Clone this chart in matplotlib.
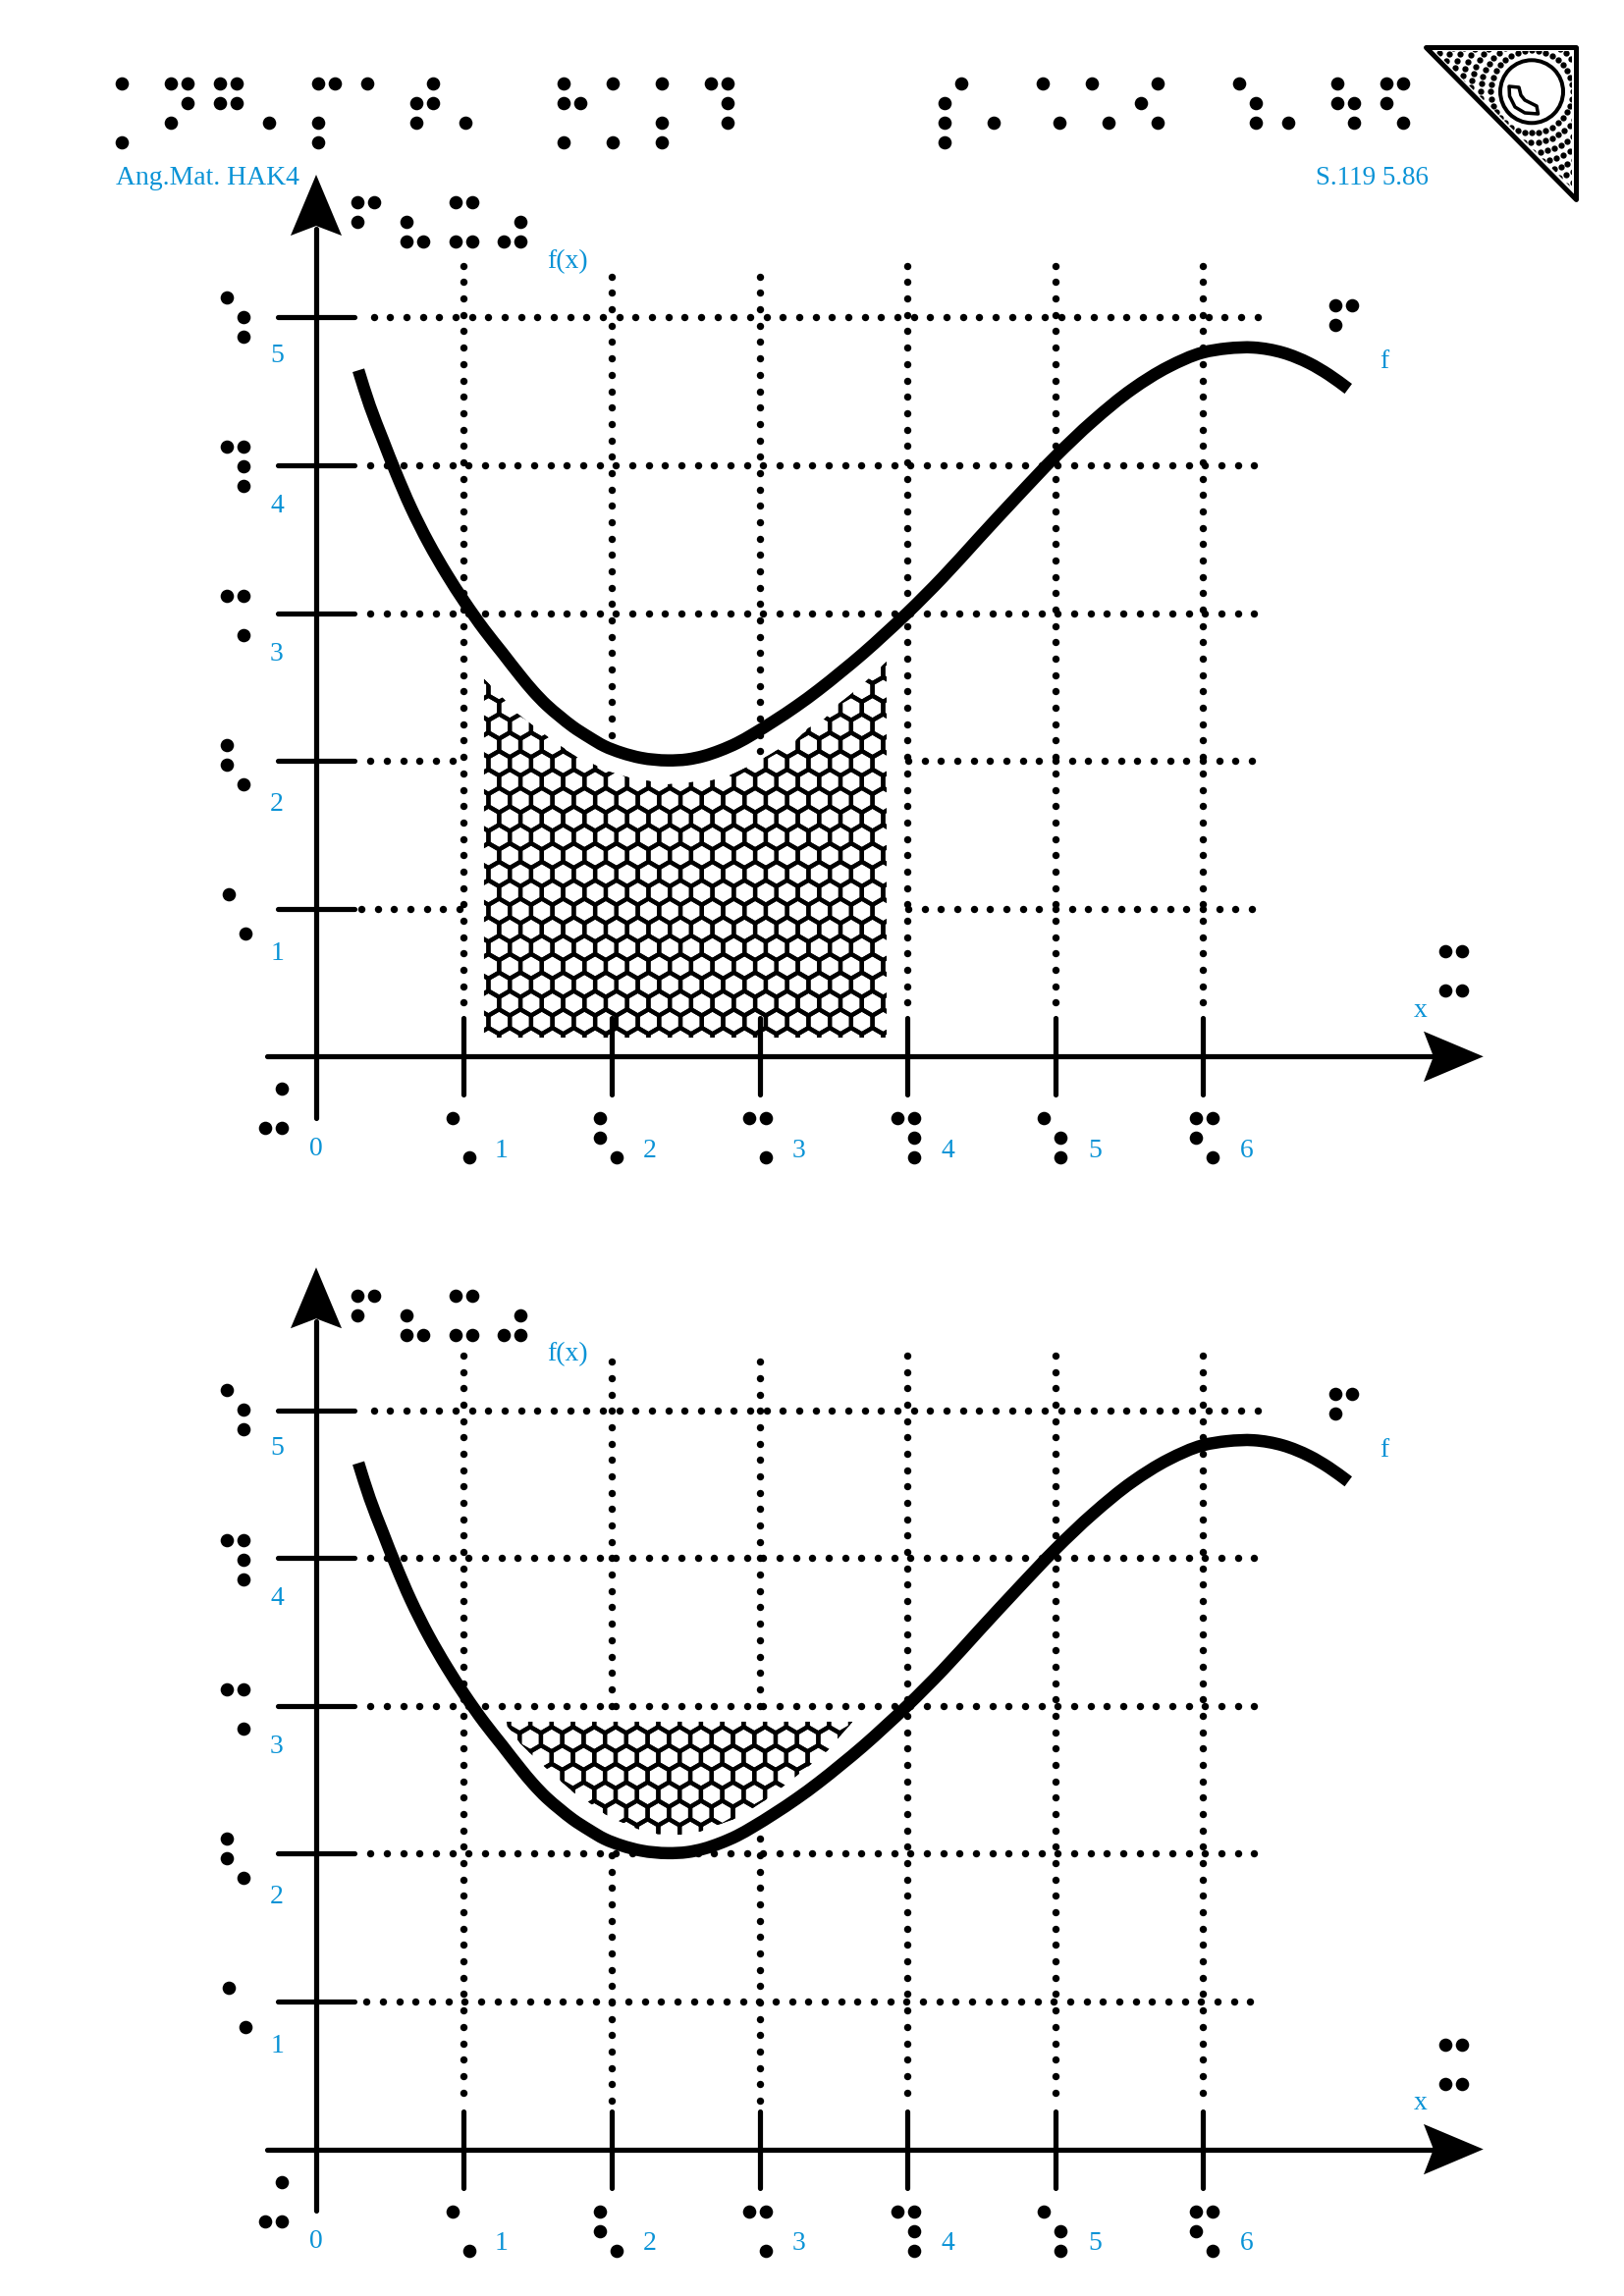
import numpy as np
import matplotlib
matplotlib.use("Agg")
import matplotlib.pyplot as plt
from matplotlib.collections import PolyCollection
from matplotlib.patches import Polygon, Circle, PathPatch
from matplotlib.path import Path

W, H = 1654, 2339
DPI = 100
BLUE = "#0a93d6"
px = 72 / DPI   # one pixel in points
FONT = "Liberation Serif"

# ---------- chart values (data units) ----------
curve_x = [0.286,0.363,0.452,0.540,0.640,0.762,0.884,1.005,1.138,1.260,1.382,1.470,1.559,1.650,1.736,1.847,1.950,
           2.066,2.200,2.380,2.512,2.620,2.733,2.850,2.955,3.100,3.250,3.400,3.550,3.700,3.850,4.000,4.239,4.483,4.749,5.003,
           5.258,5.524,5.767,6.000,6.166,6.344,6.543,6.720,6.853,6.985]
curve_y = [4.642,4.402,4.170,3.948,3.716,3.473,3.262,3.074,2.886,2.731,2.575,2.470,2.378,2.300,2.232,2.160,2.100,
           2.055,2.020,2.003,2.010,2.032,2.070,2.121,2.180,2.270,2.370,2.480,2.600,2.725,2.860,3.000,3.240,3.506,3.793,4.059,
           4.300,4.515,4.665,4.762,4.790,4.796,4.761,4.690,4.612,4.517]

region1_x = [1.136,1.136,1.276,1.362,1.449,1.561,1.661,1.767,1.867,1.980,2.113,2.379,2.678,2.797,2.897,
             3.023,3.123,3.243,3.329,3.442,3.528,3.621,3.728,3.860,3.860]
region1_y = [0.128,2.554,2.412,2.319,2.253,2.167,2.096,2.023,1.981,1.928,1.888,1.841,1.868,1.901,1.948,
             2.014,2.074,2.134,2.220,2.286,2.379,2.452,2.545,2.671,0.128]
region2_x = [1.289,3.630,3.526,3.460,3.353,3.243,3.172,3.043,2.955,2.822,2.711,2.600,2.467,2.312,2.179,
             2.047,1.958,1.836,1.748,1.648,1.548,1.459,1.382,1.294]
region2_y = [2.892,2.892,2.774,2.697,2.608,2.520,2.464,2.365,2.309,2.232,2.192,2.150,2.128,2.132,2.166,
             2.221,2.265,2.354,2.409,2.498,2.586,2.670,2.745,2.863]

x_ticks = [1, 2, 3, 4, 5, 6]
y_ticks = [1, 2, 3, 4, 5]
x_tick_labels = ["1", "2", "3", "4", "5", "6"]
y_tick_labels = ["1", "2", "3", "4", "5"]

# dotted grid spans: (position, start, stop)
hgrid1 = [(5,0.389,6.375),(4,0.367,6.35),(3,0.367,6.35),(2,0.367,0.93),(2,4.007,6.34),(1,0.306,0.98),(1,4.007,6.34)]
vgrid1 = [(1,5.349,0.36),(2,5.276,2.17),(3,5.276,2.05),(4,5.349,0.36),(5,5.349,0.36),(6,5.349,0.36)]
hgrid2 = [(5,0.389,6.375),(4,0.367,6.36),(3,0.367,6.36),(2,0.367,6.37),(1,0.340,6.37)]
vgrid2 = [(1,5.369,0.34),(2,5.327,2.99),(2,1.989,0.32),(3,5.327,2.99),(3,2.100,0.32),
          (4,5.369,0.34),(5,5.369,0.34),(6,5.369,0.34)]

# ---------- braille cells ----------
title_left = [124.1,174.1,224.1,274.1,324.1,374.1,424.1,474.1,574.1,624.1,674.1,724.1]
title_left_cells = [[(0,0),(0,3)],[(0,0),(0,2),(1,0),(1,1)],[(0,0),(0,1),(1,0),(1,1)],[(0,2)],
                    [(0,0),(0,2),(0,3),(1,0)],[(0,0)],[(0,1),(0,2),(1,0),(1,1)],[(0,2)],
                    [(0,0),(0,1),(0,3),(1,1)],[(0,0),(0,3)],[(0,0),(0,2),(0,3)],[(0,0),(1,0),(1,1),(1,2)]]
title_right = [962.4,1012.4,1062.4,1112.4,1162.4,1262.4,1312.4,1362.4,1412.4]
title_right_cells = [[(0,1),(0,2),(0,3),(1,0)],[(0,2)],[(0,0),(1,2)],[(0,0),(1,2)],[(0,1),(1,0),(1,2)],
                     [(0,0),(1,1),(1,2)],[(0,2)],[(0,0),(0,1),(1,1),(1,2)],[(0,0),(0,1),(1,0),(1,2)]]
fx_left = [364.3,414.3,464.3,513.4]
fx_cells = [[(0,0),(1,0),(0,1)],[(0,1),(0,2),(1,2)],[(0,0),(1,0),(0,2),(1,2)],[(1,1),(0,2),(1,2)]]
ybr_tops = {5:302.7,4:455.3,3:607.3,2:759.3,1:911.3}
ybr_cells = {5:[(0,0),(1,1),(1,2)],4:[(0,0),(1,0),(1,1),(1,2)],3:[(0,0),(1,0),(1,2)],
             2:[(0,0),(0,1),(1,2)],1:[(0,0),(1,2)]}
xbr_left = {0:269.7,1:461.4,2:611.4,3:762.6,4:914.3,5:1063.3,6:1218.3}
xbr_cells = {1:[(0,0),(1,2)],2:[(0,0),(0,1),(1,2)],3:[(0,0),(1,0),(1,2)],4:[(0,0),(1,0),(1,1),(1,2)],
             5:[(0,0),(1,1),(1,2)],6:[(0,0),(1,0),(0,1),(1,2)]}

fig = plt.figure(figsize=(W/DPI, H/DPI), dpi=DPI, facecolor="white")

ov = fig.add_axes([0,0,1,1], zorder=5)
ov.set_xlim(0,W); ov.set_ylim(H,0); ov.axis("off"); ov.patch.set_alpha(0)

BR_S = (13.6*px)**2
def dots(xs, ys):
    ov.scatter(xs, ys, s=BR_S, c="k", linewidths=0)
def cell(left, top, pts, cw=17, rh=20):
    dots([left+c*cw for c,r in pts], [top+r*rh for c,r in pts])

def label(x, y, s, ha="center", size=27.6):
    ov.text(x, y, s, color=BLUE, fontsize=size*px, family=FONT, ha=ha, va="baseline")

for l,c in zip(title_left, title_left_cells): cell(l, 85, c)
for l,c in zip(title_right, title_right_cells): cell(l, 85, c)
label(118, 188, "Ang.Mat. HAK4", "left")
label(1340.5, 188, "S.119 5.86", "left", 27)

def smooth_path(xs, ys):
    p = np.column_stack([xs, ys])
    chord = np.hypot(*np.diff(p, axis=0).T)
    t = np.concatenate([[0], np.cumsum(chord)])
    m = np.gradient(p, t, axis=0)
    verts, codes = [p[0]], [Path.MOVETO]
    for i in range(len(p)-1):
        h = chord[i]
        verts += [p[i]+m[i]*h/3, p[i+1]-m[i+1]*h/3, p[i+1]]
        codes += [Path.CURVE4]*3
    return Path(verts, codes)

def panel(y0_px, hgrid, vgrid, rx, ry, anchor, f_shift, shift):
    ax = fig.add_axes([0,0,1,1], zorder=1)
    ax.patch.set_alpha(0); ax.axis("off")
    sx, sy = 150.5, 150.6
    ax.set_xlim(-322/sx, (W-322)/sx)
    ax.set_ylim((y0_px-H)/sy, y0_px/sy)
    dstep = 16.67/sx
    ds = (7.4*px)**2
    for y,a,b in hgrid:
        xs = np.arange(a, b, dstep)
        ax.scatter(xs, np.full_like(xs, y), s=ds, c="k", linewidths=0, zorder=1)
    for x,a,b in vgrid:
        ys = np.arange(a, b, -dstep)
        ax.scatter(np.full_like(ys, x), ys, s=ds, c="k", linewidths=0, zorder=1)
    # honeycomb region
    R = 12.53/sx; dx = 21.73/sx; dy = 18.8/sy
    polys = []
    for j in range(-30, 30):
        for i in range(-20, 30):
            cx = anchor[0] + i*dx + (j % 2)*dx/2
            cy = anchor[1] - j*dy
            polys.append([(cx,cy+R),(cx+dx/2,cy+R/2),(cx+dx/2,cy-R/2),(cx,cy-R),(cx-dx/2,cy-R/2),(cx-dx/2,cy+R/2)])
    clip = Polygon(np.column_stack([rx,ry]), closed=True, transform=ax.transData, fc="none", ec="none")
    ax.add_patch(clip)
    pc = PolyCollection(polys, facecolors="none", edgecolors="k", linewidths=4.3*px, zorder=2)
    ax.add_collection(pc)
    pc.set_clip_path(clip)
    # axes
    lw = 5.2*px
    for t in x_ticks:
        ax.plot([t,t],[0.258,-0.260], c="k", lw=lw, solid_capstyle="round", zorder=3)
    for t in y_ticks:
        ax.plot([-0.262,0.262],[t,t], c="k", lw=lw, solid_capstyle="round", zorder=3)
    ax.plot([-0.335,7.6],[0,0], c="k", lw=lw, solid_capstyle="round", zorder=3)
    ax.plot([0,0],[-0.417,5.6], c="k", lw=lw, solid_capstyle="round", zorder=3)
    ax.add_patch(Polygon([(0,5.965),(-0.173,5.553),(0,5.619),(0.173,5.553)], fc="k", ec="none", zorder=3))
    ax.add_patch(Polygon([(7.899,0),(7.495,0.170),(7.561,0),(7.495,-0.171)], fc="k", ec="none", zorder=3))
    # curve
    ax.add_patch(PathPatch(smooth_path(curve_x, curve_y), fc="none", ec="k", lw=12.5*px,
                           capstyle="butt", joinstyle="round", zorder=4))

    # braille + labels
    for v,lab in zip(y_ticks, y_tick_labels):
        left = 233.3 if v == 1 else 231.3
        cell(left, ybr_tops[v]+shift, ybr_cells[v])
        base = {5:369.3,4:521.7,3:673.3,2:826,1:977.7}[v]
        label(282, base+shift, lab)
    for v,lab in zip(x_ticks, x_tick_labels):
        cell(xbr_left[v], 1139.3+shift, xbr_cells[v])
        xp = {1:510,2:662,3:813.3,4:965.3,5:1115,6:1270}[v]
        label(xp, 1179.3+shift, lab)
    dots([286.5,269.7,286.5],[1109.3+shift,1149.3+shift,1149.3+shift])
    label(321.7, 1177+shift, "0")
    for l,c in zip(fx_left, fx_cells): cell(l, 206.3+shift, c)
    label(557, 273+shift, "f(x)", "left")
    cell(1360.4, 310.7+f_shift, [(0,0),(1,0),(0,1)])
    label(1405, 375+f_shift, "f", "left")
    cell(1471.7, 969.3+shift, [(0,0),(1,0),(0,2),(1,2)])
    label(1447, 1035.7+shift, "x")
    return ax

panel(1076.3, hgrid1, vgrid1, region1_x, region1_y, (1.238,2.233), 0, 0)
panel(2189.5, hgrid2, vgrid2, region2_x, region2_y, (1.449,2.774), 1109, 1113.2)

# corner logo
tri = Polygon([(1451.7,48.3),(1605,48.3),(1605,202.7)], closed=True, fc="white", ec="k",
              lw=5*px, joinstyle="round", transform=ov.transData, zorder=2)
ov.add_patch(tri)
clip_tri = Polygon([(1461,52),(1601,52),(1601,192)], closed=True, transform=ov.transData, fc="none", ec="none")
ov.add_patch(clip_tri)
lx, ly = [], []
for k, r in enumerate(range(42, 132, 10)):
    n = int(2*np.pi*r/7.3)
    th = np.linspace(0, 2*np.pi, n, endpoint=False) + k*0.3
    lx += list(1560 + r*np.cos(th)); ly += list(93.3 + r*np.sin(th))
sc = ov.scatter(lx, ly, s=(6.3*px)**2, c="k", linewidths=0, zorder=3)
sc.set_clip_path(clip_tri)
ov.add_patch(Circle((1560,93.3), 32, fc="white", ec="k", lw=4*px, zorder=4))
ov.add_patch(Polygon([(1537,88),(1547,89),(1549,97),(1553,102),(1565,108),(1566.5,116),(1553,115),(1543,109),(1537.5,98)],
                     closed=True, fc="white", ec="k", lw=3.5*px, joinstyle="round", zorder=5))

fig.savefig("out.png", dpi=DPI, facecolor="white")
